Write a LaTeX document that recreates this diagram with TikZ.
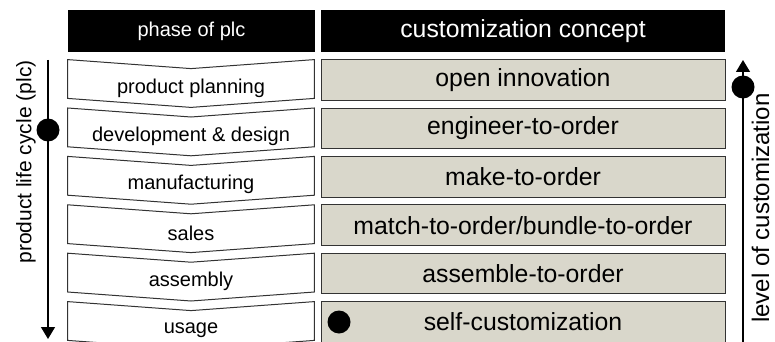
\documentclass[tikz,border=0pt]{standalone}
\usepackage{fontspec}
\setmainfont{Liberation Sans}
\usetikzlibrary{positioning}
\usetikzlibrary{arrows.meta}
\definecolor{conceptfill}{HTML}{D9D7CB}
\definecolor{boxline}{HTML}{333333}

\begin{document}
\begin{tikzpicture}[x=1pt,y=1pt,node distance=24.2pt,on grid,
    head/.style={fill=black,text=white,minimum height=21pt,inner sep=0pt},
    phase/.style={minimum width=123pt,minimum height=19pt,inner sep=0pt,font=\fontsize{10}{12}\selectfont},
    concept/.style={draw=boxline,fill=conceptfill,line width=0.5pt,minimum width=202pt,minimum height=20.25pt,inner sep=0pt,font=\fontsize{12.4}{14}\selectfont},
    dot/.style={circle,fill=black,inner sep=0pt,minimum size=11.5pt}]
   \useasboundingbox (0,0) rectangle (387.5,-171);

   \node[head,minimum width=123.5pt,font=\fontsize{10}{12}\selectfont] (h_phase) at (95.75,-15.5) {phase of plc};
   \node[head,minimum width=202pt,font=\fontsize{12.4}{14}\selectfont] (h_concept) at (261.5,-15.5) {customization concept};

   \node[phase] (p_1) at (95.5,-44) {product planning};
   \node[phase] (p_2) [below=of p_1] {development \& design};
   \node[phase] (p_3) [below=of p_2] {manufacturing};
   \node[phase] (p_4) [below=of p_3] {sales};
   \node[phase] (p_5) [below=of p_4] {assembly};
   \node[phase] (p_6) [below=of p_5] {usage};
   \foreach \i in {1,...,6}
     \draw[boxline,line width=0.5pt] ([yshift=4.5pt]p_\i.north west) -- (p_\i.north) -- ([yshift=4.5pt]p_\i.north east)
       -- ([yshift=4.5pt]p_\i.south east) -- (p_\i.south) -- ([yshift=4.5pt]p_\i.south west) -- cycle;

   \node[concept] (c_1) at (261.5,-40) {open innovation};
   \node[concept] (c_2) [below=of c_1] {engineer-to-order};
   \node[concept] (c_3) [below=of c_2] {make-to-order};
   \node[concept] (c_4) [below=of c_3] {match-to-order/bundle-to-order};
   \node[concept] (c_5) [below=of c_4] {assemble-to-order};
   \node[concept] (c_6) [below=of c_5] {self-customization};
   \node[dot] (dot_self) at (169.5,-161) {};

   % product life cycle
   \coordinate (plc_start) at (24,-30);
   \coordinate (plc_end) at (24,-169.5);
   \draw[line width=0.6pt,-{Triangle[width=7pt,length=6pt]}] (plc_start) -- (plc_end);
   \node[dot] (plc_dot) at (24,-65) {};
   \node[rotate=90,font=\fontsize{10.5}{12}\selectfont] (plc_label) at (13,-81) {product life cycle (plc)};

   % level of customization
   \coordinate (loc_start) at (371.5,-171);
   \coordinate (loc_end) at (371.5,-30);
   \draw[line width=0.6pt,-{Triangle[width=7pt,length=6pt]}] (loc_start) -- (loc_end);
   \node[dot] (loc_dot) at (371.5,-43.5) {};
   \node[rotate=90,anchor=base,inner sep=0pt,font=\fontsize{12}{14}\selectfont] (loc_label) at (384.5,-104) {level of customization};
\end{tikzpicture}
\end{document}
